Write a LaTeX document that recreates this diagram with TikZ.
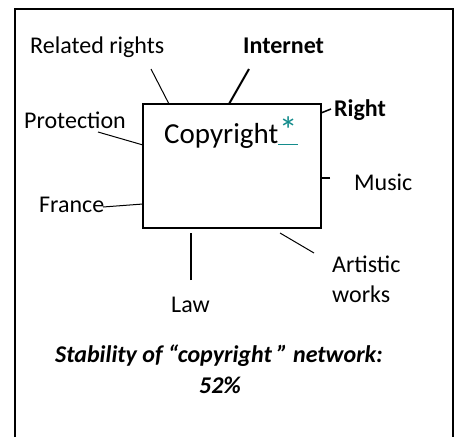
\documentclass[tikz,border=0pt]{standalone}
\usepackage{fontspec}
\setmainfont{Carlito}
\definecolor{linkteal}{RGB}{20,140,140}
\tikzset{
  lbl/.style={inner sep=0pt, anchor=base west, font=\fontsize{24}{29}\selectfont},
  blbl/.style={lbl, font=\fontsize{24}{29}\selectfont\bfseries},
  conn/.style={line width=1pt},
  thick conn/.style={line width=2pt},
  frame/.style={line width=1.5pt}
}
\begin{document}
\begin{tikzpicture}[x=1pt,y=-1pt]
\useasboundingbox (0,0) rectangle (460,437);
% outer frame (open at bottom)
\draw[frame] (15,437) -- (15,9) -- (453,9) -- (453,437);
% central box
\node[draw, line width=1.5pt, minimum width=178pt, minimum height=124pt, inner sep=0pt] (cbox) at (232,166) {};
\node[lbl, font=\fontsize{29}{35}\selectfont] (copy) at (164,143) {Copyright\textcolor{linkteal}{\underline{\hspace{0.5pt}\scalebox{1.3}{*}\hspace{0.5pt}}}};
% labels
\node[lbl] (related) at (30,53) {Related rights};
\node[blbl] (internet) at (243,53) {Internet};
\node[lbl] (protection) at (24,128) {Protection};
\node[lbl] (france) at (39,212) {France};
\node[blbl] (right) at (334,116) {Right};
\node[lbl] (music) at (354,190) {Music};
\node[lbl] (law) at (171,312) {Law};
\node[lbl] (artistic) at (332,272) {Artistic};
\node[lbl] (works) at (332,302) {works};
\node[inner sep=0pt, anchor=base, font=\fontsize{24}{29}\selectfont\bfseries\itshape] (title) at (219,362) {Stability of “copyright ” network:};
\node[inner sep=0pt, anchor=base, font=\fontsize{24}{29}\selectfont\bfseries\itshape] (pct) at (220,393) {52\%};
% connector ends
\coordinate (rr1) at (151,69);  \coordinate (rr2) at (169,104);
\coordinate (in1) at (249,69);  \coordinate (in2) at (229,104);
\coordinate (ri1) at (331,109); \coordinate (ri2) at (321,113);
\coordinate (mu1) at (330,178); \coordinate (mu2) at (321,178);
\coordinate (pr1) at (98,132);  \coordinate (pr2) at (143,145);
\coordinate (fr1) at (103,207); \coordinate (fr2) at (143,204);
\coordinate (la1) at (191,280); \coordinate (la2) at (191,233);
\coordinate (ar1) at (314,253); \coordinate (ar2) at (280,233);
\draw[conn] (rr1) -- (rr2);
\draw[thick conn] (in1) -- (in2);
\draw[line width=1.5pt] (ri1) -- (ri2);
\draw[line width=1.5pt] (mu1) -- (mu2);
\draw[conn] (pr1) -- (pr2);
\draw[conn] (fr1) -- (fr2);
\draw[thick conn] (la1) -- (la2);
\draw[conn] (ar1) -- (ar2);
\end{tikzpicture}
\end{document}
